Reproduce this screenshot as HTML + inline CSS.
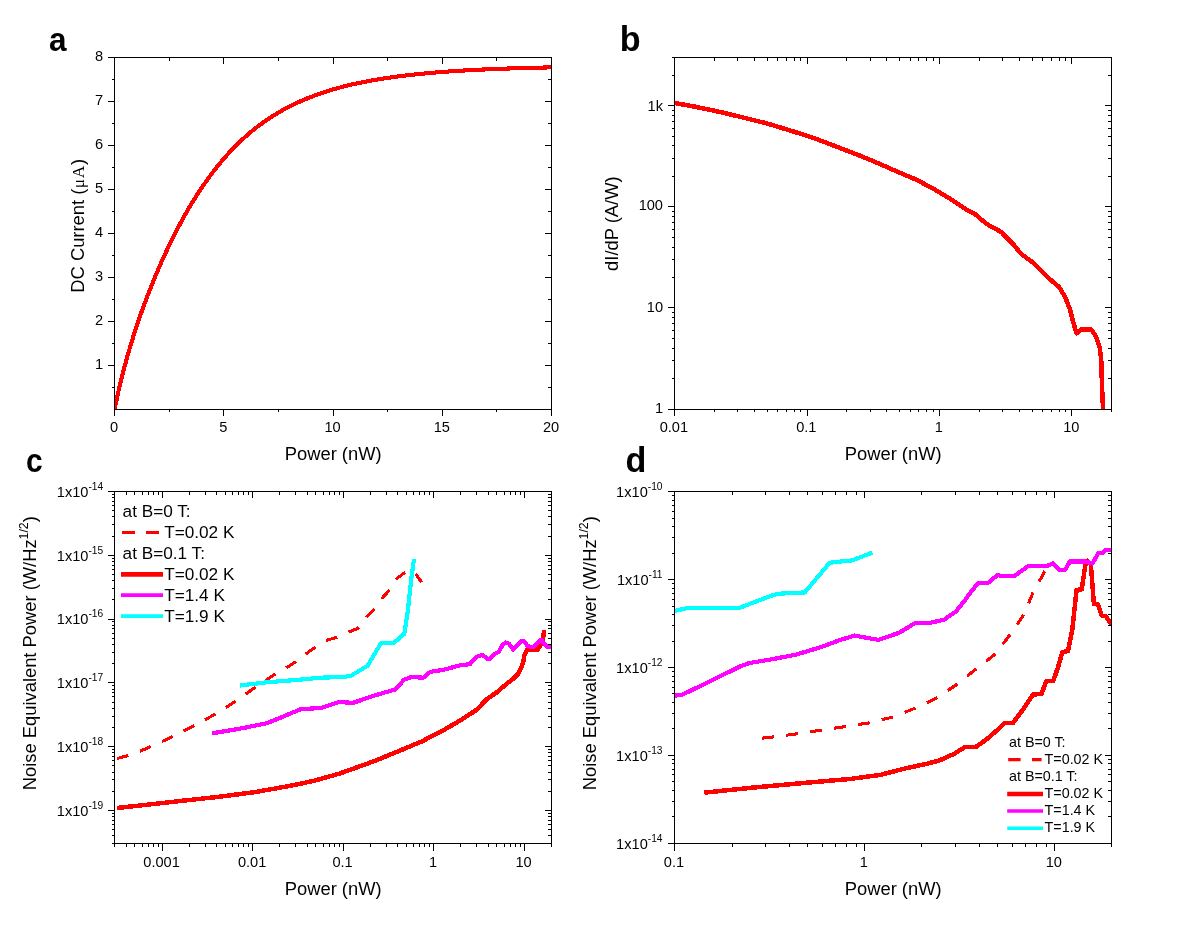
<!DOCTYPE html>
<html><head><meta charset="utf-8"><title>Figure</title>
<style>html,body{margin:0;padding:0;background:#fff;}body{width:1203px;height:927px;overflow:hidden;font-family:"Liberation Sans",sans-serif;}svg{display:block;}</style>
</head><body>
<svg width="1203" height="927" viewBox="0 0 1203 927" font-family='"Liberation Sans", sans-serif' fill="#000">
<defs>
<clipPath id="cla"><rect x="115" y="58" width="436" height="351"/></clipPath>
<clipPath id="clb"><rect x="675" y="58" width="436" height="351"/></clipPath>
<clipPath id="clc"><rect x="115" y="492" width="436" height="351"/></clipPath>
<clipPath id="cld"><rect x="675" y="492" width="436" height="351"/></clipPath>
</defs>
<rect width="1203" height="927" fill="#fff"/>
<g opacity="0.999">
<path d="M114.50,409.40L118.87,389.42L123.24,371.60L127.61,355.48L131.98,340.71L136.35,327.02L140.72,314.21L145.09,302.15L149.46,290.72L153.83,279.85L158.20,269.48L162.57,259.56L166.94,250.07L171.31,240.99L175.68,232.29L180.05,223.96L184.42,215.98L188.79,208.36L193.16,201.08L197.53,194.12L201.90,187.48L206.27,181.15L210.64,175.13L215.01,169.39L219.38,163.93L223.75,158.75L228.12,153.82L232.49,149.15L236.86,144.71L241.23,140.50L245.60,136.51L249.97,132.73L254.34,129.16L258.71,125.77L263.08,122.56L267.45,119.52L271.82,116.65L276.19,113.93L280.56,111.36L284.93,108.92L289.30,106.62L293.67,104.44L298.04,102.38L302.41,100.44L306.78,98.60L311.15,96.85L315.52,95.21L319.89,93.65L324.26,92.17L328.63,90.78L333.00,89.46L337.37,88.21L341.74,87.03L346.11,85.91L350.48,84.85L354.85,83.85L359.22,82.90L363.59,82.01L367.96,81.16L372.33,80.35L376.70,79.59L381.07,78.87L385.44,78.19L389.81,77.54L394.18,76.93L398.55,76.35L402.92,75.80L407.29,75.27L411.66,74.78L416.03,74.31L420.40,73.87L424.77,73.45L429.14,73.05L433.51,72.67L437.88,72.31L442.25,71.97L446.62,71.65L450.99,71.34L455.36,71.05L459.73,70.78L464.10,70.52L468.47,70.27L472.84,70.03L477.21,69.81L481.58,69.60L485.95,69.40L490.32,69.21L494.69,69.03L499.06,68.86L503.43,68.70L507.80,68.54L512.17,68.39L516.54,68.26L520.91,68.12L525.28,68.00L529.65,67.88L534.02,67.77L538.39,67.66L542.76,67.56L547.13,67.46L551.50,67.37" fill="none" stroke="#ff0000" stroke-width="4.1" stroke-linejoin="round" stroke-linecap="butt" shape-rendering="crispEdges" clip-path="url(#cla)"/>
<rect x="114" y="57" width="438" height="1" fill="#000"/>
<rect x="114" y="409" width="438" height="1" fill="#000"/>
<rect x="114" y="57" width="1" height="353" fill="#000"/>
<rect x="551" y="57" width="1" height="353" fill="#000"/>
<rect x="114" y="410" width="1" height="6" fill="#000"/>
<rect x="114" y="58" width="1" height="6" fill="#000"/>
<rect x="223" y="410" width="1" height="6" fill="#000"/>
<rect x="223" y="58" width="1" height="6" fill="#000"/>
<rect x="333" y="410" width="1" height="6" fill="#000"/>
<rect x="333" y="58" width="1" height="6" fill="#000"/>
<rect x="442" y="410" width="1" height="6" fill="#000"/>
<rect x="442" y="58" width="1" height="6" fill="#000"/>
<rect x="551" y="410" width="1" height="6" fill="#000"/>
<rect x="551" y="58" width="1" height="6" fill="#000"/>
<rect x="169" y="410" width="1" height="2" fill="#000"/>
<rect x="169" y="58" width="1" height="3" fill="#000"/>
<rect x="278" y="410" width="1" height="2" fill="#000"/>
<rect x="278" y="58" width="1" height="3" fill="#000"/>
<rect x="387" y="410" width="1" height="2" fill="#000"/>
<rect x="387" y="58" width="1" height="3" fill="#000"/>
<rect x="496" y="410" width="1" height="2" fill="#000"/>
<rect x="496" y="58" width="1" height="3" fill="#000"/>
<rect x="108" y="365" width="6" height="1" fill="#000"/>
<rect x="545" y="365" width="6" height="1" fill="#000"/>
<rect x="108" y="321" width="6" height="1" fill="#000"/>
<rect x="545" y="321" width="6" height="1" fill="#000"/>
<rect x="108" y="277" width="6" height="1" fill="#000"/>
<rect x="545" y="277" width="6" height="1" fill="#000"/>
<rect x="108" y="233" width="6" height="1" fill="#000"/>
<rect x="545" y="233" width="6" height="1" fill="#000"/>
<rect x="108" y="189" width="6" height="1" fill="#000"/>
<rect x="545" y="189" width="6" height="1" fill="#000"/>
<rect x="108" y="145" width="6" height="1" fill="#000"/>
<rect x="545" y="145" width="6" height="1" fill="#000"/>
<rect x="108" y="101" width="6" height="1" fill="#000"/>
<rect x="545" y="101" width="6" height="1" fill="#000"/>
<rect x="108" y="57" width="6" height="1" fill="#000"/>
<rect x="545" y="57" width="6" height="1" fill="#000"/>
<rect x="112" y="387" width="2" height="1" fill="#000"/>
<rect x="548" y="387" width="3" height="1" fill="#000"/>
<rect x="112" y="343" width="2" height="1" fill="#000"/>
<rect x="548" y="343" width="3" height="1" fill="#000"/>
<rect x="112" y="299" width="2" height="1" fill="#000"/>
<rect x="548" y="299" width="3" height="1" fill="#000"/>
<rect x="112" y="255" width="2" height="1" fill="#000"/>
<rect x="548" y="255" width="3" height="1" fill="#000"/>
<rect x="112" y="211" width="2" height="1" fill="#000"/>
<rect x="548" y="211" width="3" height="1" fill="#000"/>
<rect x="112" y="167" width="2" height="1" fill="#000"/>
<rect x="548" y="167" width="3" height="1" fill="#000"/>
<rect x="112" y="123" width="2" height="1" fill="#000"/>
<rect x="548" y="123" width="3" height="1" fill="#000"/>
<rect x="112" y="79" width="2" height="1" fill="#000"/>
<rect x="548" y="79" width="3" height="1" fill="#000"/>
<text x="114.1" y="432.2" font-size="14.6" text-anchor="middle" font-weight="normal" >0</text>
<text x="223.35" y="432.2" font-size="14.6" text-anchor="middle" font-weight="normal" >5</text>
<text x="332.6" y="432.2" font-size="14.6" text-anchor="middle" font-weight="normal" >10</text>
<text x="441.85" y="432.2" font-size="14.6" text-anchor="middle" font-weight="normal" >15</text>
<text x="551.1" y="432.2" font-size="14.6" text-anchor="middle" font-weight="normal" >20</text>
<text x="103" y="369.01" font-size="14.6" text-anchor="end" font-weight="normal" >1</text>
<text x="103" y="325.02" font-size="14.6" text-anchor="end" font-weight="normal" >2</text>
<text x="103" y="281.03" font-size="14.6" text-anchor="end" font-weight="normal" >3</text>
<text x="103" y="237.03999999999996" font-size="14.6" text-anchor="end" font-weight="normal" >4</text>
<text x="103" y="193.04999999999995" font-size="14.6" text-anchor="end" font-weight="normal" >5</text>
<text x="103" y="149.05999999999997" font-size="14.6" text-anchor="end" font-weight="normal" >6</text>
<text x="103" y="105.06999999999996" font-size="14.6" text-anchor="end" font-weight="normal" >7</text>
<text x="103" y="61.07999999999996" font-size="14.6" text-anchor="end" font-weight="normal" >8</text>
<text x="333.2" y="460.0" font-size="18.35" text-anchor="middle" font-weight="normal" >Power (nW)</text>
<text transform="translate(84.1,292.7) rotate(-90)" font-size="18.35">DC Current (<tspan font-family='"Liberation Serif", serif' font-size="17.4" letter-spacing="0.7" dx="0.4">μA</tspan>)</text>
<text transform="translate(48.9,50.8) scale(0.93,1)" font-size="33.9" font-weight="bold">a</text>
<path d="M674.70,103.00L695.60,106.80L719.30,111.80L743.10,117.50L766.80,123.40L790.60,130.60L814.30,138.20L838.00,147.20L861.80,156.40L880.00,164.00L896.60,171.40L915.60,179.40L932.20,188.00L951.20,199.40L967.80,210.50L975.00,214.10L986.80,224.10L1001.10,231.90L1012.90,243.80L1021.20,254.00L1034.30,263.50L1050.90,280.10L1059.20,287.20L1065.20,297.20L1069.90,309.10L1073.50,323.30L1076.60,333.30L1080.60,329.70L1091.30,329.70L1096.00,336.30L1099.60,347.00L1101.20,358.90L1101.60,373.10L1102.40,396.40L1103.20,410.00" fill="none" stroke="#ff0000" stroke-width="4.5" stroke-linejoin="round" stroke-linecap="butt" shape-rendering="crispEdges" clip-path="url(#clb)"/>
<rect x="674" y="57" width="438" height="1" fill="#000"/>
<rect x="674" y="409" width="438" height="1" fill="#000"/>
<rect x="674" y="57" width="1" height="353" fill="#000"/>
<rect x="1111" y="57" width="1" height="353" fill="#000"/>
<rect x="674" y="410" width="1" height="6" fill="#000"/>
<rect x="674" y="58" width="1" height="6" fill="#000"/>
<rect x="807" y="410" width="1" height="6" fill="#000"/>
<rect x="807" y="58" width="1" height="6" fill="#000"/>
<rect x="939" y="410" width="1" height="6" fill="#000"/>
<rect x="939" y="58" width="1" height="6" fill="#000"/>
<rect x="1071" y="410" width="1" height="6" fill="#000"/>
<rect x="1071" y="58" width="1" height="6" fill="#000"/>
<rect x="714" y="410" width="1" height="2" fill="#000"/>
<rect x="714" y="58" width="1" height="3" fill="#000"/>
<rect x="737" y="410" width="1" height="2" fill="#000"/>
<rect x="737" y="58" width="1" height="3" fill="#000"/>
<rect x="754" y="410" width="1" height="2" fill="#000"/>
<rect x="754" y="58" width="1" height="3" fill="#000"/>
<rect x="767" y="410" width="1" height="2" fill="#000"/>
<rect x="767" y="58" width="1" height="3" fill="#000"/>
<rect x="777" y="410" width="1" height="2" fill="#000"/>
<rect x="777" y="58" width="1" height="3" fill="#000"/>
<rect x="786" y="410" width="1" height="2" fill="#000"/>
<rect x="786" y="58" width="1" height="3" fill="#000"/>
<rect x="794" y="410" width="1" height="2" fill="#000"/>
<rect x="794" y="58" width="1" height="3" fill="#000"/>
<rect x="800" y="410" width="1" height="2" fill="#000"/>
<rect x="800" y="58" width="1" height="3" fill="#000"/>
<rect x="846" y="410" width="1" height="2" fill="#000"/>
<rect x="846" y="58" width="1" height="3" fill="#000"/>
<rect x="870" y="410" width="1" height="2" fill="#000"/>
<rect x="870" y="58" width="1" height="3" fill="#000"/>
<rect x="886" y="410" width="1" height="2" fill="#000"/>
<rect x="886" y="58" width="1" height="3" fill="#000"/>
<rect x="899" y="410" width="1" height="2" fill="#000"/>
<rect x="899" y="58" width="1" height="3" fill="#000"/>
<rect x="910" y="410" width="1" height="2" fill="#000"/>
<rect x="910" y="58" width="1" height="3" fill="#000"/>
<rect x="918" y="410" width="1" height="2" fill="#000"/>
<rect x="918" y="58" width="1" height="3" fill="#000"/>
<rect x="926" y="410" width="1" height="2" fill="#000"/>
<rect x="926" y="58" width="1" height="3" fill="#000"/>
<rect x="933" y="410" width="1" height="2" fill="#000"/>
<rect x="933" y="58" width="1" height="3" fill="#000"/>
<rect x="979" y="410" width="1" height="2" fill="#000"/>
<rect x="979" y="58" width="1" height="3" fill="#000"/>
<rect x="1002" y="410" width="1" height="2" fill="#000"/>
<rect x="1002" y="58" width="1" height="3" fill="#000"/>
<rect x="1019" y="410" width="1" height="2" fill="#000"/>
<rect x="1019" y="58" width="1" height="3" fill="#000"/>
<rect x="1032" y="410" width="1" height="2" fill="#000"/>
<rect x="1032" y="58" width="1" height="3" fill="#000"/>
<rect x="1042" y="410" width="1" height="2" fill="#000"/>
<rect x="1042" y="58" width="1" height="3" fill="#000"/>
<rect x="1051" y="410" width="1" height="2" fill="#000"/>
<rect x="1051" y="58" width="1" height="3" fill="#000"/>
<rect x="1059" y="410" width="1" height="2" fill="#000"/>
<rect x="1059" y="58" width="1" height="3" fill="#000"/>
<rect x="1065" y="410" width="1" height="2" fill="#000"/>
<rect x="1065" y="58" width="1" height="3" fill="#000"/>
<rect x="1111" y="410" width="1" height="2" fill="#000"/>
<rect x="1111" y="58" width="1" height="3" fill="#000"/>
<rect x="668" y="409" width="6" height="1" fill="#000"/>
<rect x="1105" y="409" width="6" height="1" fill="#000"/>
<rect x="668" y="307" width="6" height="1" fill="#000"/>
<rect x="1105" y="307" width="6" height="1" fill="#000"/>
<rect x="668" y="206" width="6" height="1" fill="#000"/>
<rect x="1105" y="206" width="6" height="1" fill="#000"/>
<rect x="668" y="105" width="6" height="1" fill="#000"/>
<rect x="1105" y="105" width="6" height="1" fill="#000"/>
<rect x="672" y="378" width="2" height="1" fill="#000"/>
<rect x="1108" y="378" width="3" height="1" fill="#000"/>
<rect x="672" y="360" width="2" height="1" fill="#000"/>
<rect x="1108" y="360" width="3" height="1" fill="#000"/>
<rect x="672" y="348" width="2" height="1" fill="#000"/>
<rect x="1108" y="348" width="3" height="1" fill="#000"/>
<rect x="672" y="338" width="2" height="1" fill="#000"/>
<rect x="1108" y="338" width="3" height="1" fill="#000"/>
<rect x="672" y="330" width="2" height="1" fill="#000"/>
<rect x="1108" y="330" width="3" height="1" fill="#000"/>
<rect x="672" y="323" width="2" height="1" fill="#000"/>
<rect x="1108" y="323" width="3" height="1" fill="#000"/>
<rect x="672" y="317" width="2" height="1" fill="#000"/>
<rect x="1108" y="317" width="3" height="1" fill="#000"/>
<rect x="672" y="312" width="2" height="1" fill="#000"/>
<rect x="1108" y="312" width="3" height="1" fill="#000"/>
<rect x="672" y="277" width="2" height="1" fill="#000"/>
<rect x="1108" y="277" width="3" height="1" fill="#000"/>
<rect x="672" y="259" width="2" height="1" fill="#000"/>
<rect x="1108" y="259" width="3" height="1" fill="#000"/>
<rect x="672" y="247" width="2" height="1" fill="#000"/>
<rect x="1108" y="247" width="3" height="1" fill="#000"/>
<rect x="672" y="237" width="2" height="1" fill="#000"/>
<rect x="1108" y="237" width="3" height="1" fill="#000"/>
<rect x="672" y="229" width="2" height="1" fill="#000"/>
<rect x="1108" y="229" width="3" height="1" fill="#000"/>
<rect x="672" y="222" width="2" height="1" fill="#000"/>
<rect x="1108" y="222" width="3" height="1" fill="#000"/>
<rect x="672" y="216" width="2" height="1" fill="#000"/>
<rect x="1108" y="216" width="3" height="1" fill="#000"/>
<rect x="672" y="211" width="2" height="1" fill="#000"/>
<rect x="1108" y="211" width="3" height="1" fill="#000"/>
<rect x="672" y="176" width="2" height="1" fill="#000"/>
<rect x="1108" y="176" width="3" height="1" fill="#000"/>
<rect x="672" y="158" width="2" height="1" fill="#000"/>
<rect x="1108" y="158" width="3" height="1" fill="#000"/>
<rect x="672" y="145" width="2" height="1" fill="#000"/>
<rect x="1108" y="145" width="3" height="1" fill="#000"/>
<rect x="672" y="136" width="2" height="1" fill="#000"/>
<rect x="1108" y="136" width="3" height="1" fill="#000"/>
<rect x="672" y="128" width="2" height="1" fill="#000"/>
<rect x="1108" y="128" width="3" height="1" fill="#000"/>
<rect x="672" y="121" width="2" height="1" fill="#000"/>
<rect x="1108" y="121" width="3" height="1" fill="#000"/>
<rect x="672" y="115" width="2" height="1" fill="#000"/>
<rect x="1108" y="115" width="3" height="1" fill="#000"/>
<rect x="672" y="110" width="2" height="1" fill="#000"/>
<rect x="1108" y="110" width="3" height="1" fill="#000"/>
<rect x="672" y="75" width="2" height="1" fill="#000"/>
<rect x="1108" y="75" width="3" height="1" fill="#000"/>
<rect x="672" y="57" width="2" height="1" fill="#000"/>
<rect x="1108" y="57" width="3" height="1" fill="#000"/>
<text x="673.9000000000001" y="432.2" font-size="14.6" text-anchor="middle" font-weight="normal" >0.01</text>
<text x="806.35" y="432.2" font-size="14.6" text-anchor="middle" font-weight="normal" >0.1</text>
<text x="938.8" y="432.2" font-size="14.6" text-anchor="middle" font-weight="normal" >1</text>
<text x="1071.25" y="432.2" font-size="14.6" text-anchor="middle" font-weight="normal" >10</text>
<text x="663" y="412.6" font-size="14.6" text-anchor="end" font-weight="normal" >1</text>
<text x="663" y="311.5" font-size="14.6" text-anchor="end" font-weight="normal" >10</text>
<text x="663" y="210.4" font-size="14.6" text-anchor="end" font-weight="normal" >100</text>
<text x="663" y="110.70000000000005" font-size="14.6" text-anchor="end" font-weight="normal" >1k</text>
<text x="893.2" y="460.0" font-size="18.35" text-anchor="middle" font-weight="normal" >Power (nW)</text>
<text transform="translate(618.2,270.9) rotate(-90)" font-size="18.35">dI/dP (A/W)</text>
<text transform="translate(619.7,50.8) scale(0.96,1)" font-size="35.6" font-weight="bold">b</text>
<path d="M117.00,758.50L128.50,755.50L145.10,749.10L167.70,738.90L189.00,728.20L210.40,716.80L230.60,704.50L251.90,689.70L272.10,676.00L292.30,664.10L311.30,649.90L327.90,640.00L337.80,636.90L348.50,632.10L358.00,628.30L366.30,617.20L374.60,608.80L382.20,598.20L389.60,589.90L396.00,579.20L405.50,572.00L413.80,571.00L421.60,582.30" fill="none" stroke="#ff0000" stroke-width="3.1" stroke-linejoin="round" stroke-linecap="butt" shape-rendering="crispEdges" stroke-dasharray="11.8 12.3" clip-path="url(#clc)"/>
<path d="M116.90,808.00L147.50,804.70L183.10,800.70L218.70,796.80L254.30,792.20L289.90,785.90L313.60,780.90L339.80,773.50L374.60,761.00L398.30,751.30L422.10,741.30L443.40,730.20L462.40,719.20L476.70,709.70L487.30,698.70L497.00,692.20L505.60,684.70L513.20,678.70L518.50,673.40L522.90,663.60L524.50,655.00L527.20,649.60L537.40,649.60L540.10,646.40L542.80,639.90L543.90,632.40L544.40,630.20" fill="none" stroke="#ff0000" stroke-width="4.5" stroke-linejoin="round" stroke-linecap="butt" shape-rendering="crispEdges" clip-path="url(#clc)"/>
<path d="M212.00,733.40L242.40,728.20L266.20,723.40L282.80,716.80L300.60,709.20L320.80,708.00L339.00,702.10L353.20,702.80L374.60,695.50L394.80,689.60L404.30,679.60L411.40,677.00L423.30,677.70L430.40,671.80L443.40,669.90L460.10,665.30L470.00,664.20L474.30,658.80L478.60,655.90L482.90,655.00L487.30,659.10L490.00,658.80L493.70,654.50L498.60,651.80L502.40,645.30L505.60,642.60L508.80,643.70L513.20,649.60L517.50,644.80L521.80,640.80L524.50,641.50L527.20,645.80L530.40,646.90L534.70,646.40L539.00,641.00L541.20,639.90L544.40,644.20L547.70,646.90L551.50,647.50" fill="none" stroke="#ff00ff" stroke-width="4.2" stroke-linejoin="round" stroke-linecap="butt" shape-rendering="crispEdges" clip-path="url(#clc)"/>
<path d="M240.10,685.50L266.20,682.40L301.80,679.50L320.00,677.70L343.70,677.00L350.90,675.80L367.50,665.80L374.60,653.90L381.20,642.80L394.10,642.60L404.30,633.80L407.80,611.20L411.40,578.00L414.00,559.00" fill="none" stroke="#00ffff" stroke-width="4.2" stroke-linejoin="round" stroke-linecap="butt" shape-rendering="crispEdges" clip-path="url(#clc)"/>
<rect x="114" y="491" width="438" height="1" fill="#000"/>
<rect x="114" y="843" width="438" height="1" fill="#000"/>
<rect x="114" y="491" width="1" height="353" fill="#000"/>
<rect x="551" y="491" width="1" height="353" fill="#000"/>
<rect x="162" y="844" width="1" height="7" fill="#000"/>
<rect x="162" y="492" width="1" height="6" fill="#000"/>
<rect x="252" y="844" width="1" height="7" fill="#000"/>
<rect x="252" y="492" width="1" height="6" fill="#000"/>
<rect x="343" y="844" width="1" height="7" fill="#000"/>
<rect x="343" y="492" width="1" height="6" fill="#000"/>
<rect x="433" y="844" width="1" height="7" fill="#000"/>
<rect x="433" y="492" width="1" height="6" fill="#000"/>
<rect x="524" y="844" width="1" height="7" fill="#000"/>
<rect x="524" y="492" width="1" height="6" fill="#000"/>
<rect x="114" y="844" width="1" height="3" fill="#000"/>
<rect x="114" y="492" width="1" height="3" fill="#000"/>
<rect x="126" y="844" width="1" height="3" fill="#000"/>
<rect x="126" y="492" width="1" height="3" fill="#000"/>
<rect x="134" y="844" width="1" height="3" fill="#000"/>
<rect x="134" y="492" width="1" height="3" fill="#000"/>
<rect x="142" y="844" width="1" height="3" fill="#000"/>
<rect x="142" y="492" width="1" height="3" fill="#000"/>
<rect x="148" y="844" width="1" height="3" fill="#000"/>
<rect x="148" y="492" width="1" height="3" fill="#000"/>
<rect x="153" y="844" width="1" height="3" fill="#000"/>
<rect x="153" y="492" width="1" height="3" fill="#000"/>
<rect x="158" y="844" width="1" height="3" fill="#000"/>
<rect x="158" y="492" width="1" height="3" fill="#000"/>
<rect x="189" y="844" width="1" height="3" fill="#000"/>
<rect x="189" y="492" width="1" height="3" fill="#000"/>
<rect x="205" y="844" width="1" height="3" fill="#000"/>
<rect x="205" y="492" width="1" height="3" fill="#000"/>
<rect x="216" y="844" width="1" height="3" fill="#000"/>
<rect x="216" y="492" width="1" height="3" fill="#000"/>
<rect x="225" y="844" width="1" height="3" fill="#000"/>
<rect x="225" y="492" width="1" height="3" fill="#000"/>
<rect x="232" y="844" width="1" height="3" fill="#000"/>
<rect x="232" y="492" width="1" height="3" fill="#000"/>
<rect x="238" y="844" width="1" height="3" fill="#000"/>
<rect x="238" y="492" width="1" height="3" fill="#000"/>
<rect x="243" y="844" width="1" height="3" fill="#000"/>
<rect x="243" y="492" width="1" height="3" fill="#000"/>
<rect x="248" y="844" width="1" height="3" fill="#000"/>
<rect x="248" y="492" width="1" height="3" fill="#000"/>
<rect x="279" y="844" width="1" height="3" fill="#000"/>
<rect x="279" y="492" width="1" height="3" fill="#000"/>
<rect x="295" y="844" width="1" height="3" fill="#000"/>
<rect x="295" y="492" width="1" height="3" fill="#000"/>
<rect x="307" y="844" width="1" height="3" fill="#000"/>
<rect x="307" y="492" width="1" height="3" fill="#000"/>
<rect x="315" y="844" width="1" height="3" fill="#000"/>
<rect x="315" y="492" width="1" height="3" fill="#000"/>
<rect x="323" y="844" width="1" height="3" fill="#000"/>
<rect x="323" y="492" width="1" height="3" fill="#000"/>
<rect x="329" y="844" width="1" height="3" fill="#000"/>
<rect x="329" y="492" width="1" height="3" fill="#000"/>
<rect x="334" y="844" width="1" height="3" fill="#000"/>
<rect x="334" y="492" width="1" height="3" fill="#000"/>
<rect x="339" y="844" width="1" height="3" fill="#000"/>
<rect x="339" y="492" width="1" height="3" fill="#000"/>
<rect x="370" y="844" width="1" height="3" fill="#000"/>
<rect x="370" y="492" width="1" height="3" fill="#000"/>
<rect x="386" y="844" width="1" height="3" fill="#000"/>
<rect x="386" y="492" width="1" height="3" fill="#000"/>
<rect x="397" y="844" width="1" height="3" fill="#000"/>
<rect x="397" y="492" width="1" height="3" fill="#000"/>
<rect x="406" y="844" width="1" height="3" fill="#000"/>
<rect x="406" y="492" width="1" height="3" fill="#000"/>
<rect x="413" y="844" width="1" height="3" fill="#000"/>
<rect x="413" y="492" width="1" height="3" fill="#000"/>
<rect x="419" y="844" width="1" height="3" fill="#000"/>
<rect x="419" y="492" width="1" height="3" fill="#000"/>
<rect x="424" y="844" width="1" height="3" fill="#000"/>
<rect x="424" y="492" width="1" height="3" fill="#000"/>
<rect x="429" y="844" width="1" height="3" fill="#000"/>
<rect x="429" y="492" width="1" height="3" fill="#000"/>
<rect x="460" y="844" width="1" height="3" fill="#000"/>
<rect x="460" y="492" width="1" height="3" fill="#000"/>
<rect x="476" y="844" width="1" height="3" fill="#000"/>
<rect x="476" y="492" width="1" height="3" fill="#000"/>
<rect x="488" y="844" width="1" height="3" fill="#000"/>
<rect x="488" y="492" width="1" height="3" fill="#000"/>
<rect x="496" y="844" width="1" height="3" fill="#000"/>
<rect x="496" y="492" width="1" height="3" fill="#000"/>
<rect x="504" y="844" width="1" height="3" fill="#000"/>
<rect x="504" y="492" width="1" height="3" fill="#000"/>
<rect x="510" y="844" width="1" height="3" fill="#000"/>
<rect x="510" y="492" width="1" height="3" fill="#000"/>
<rect x="515" y="844" width="1" height="3" fill="#000"/>
<rect x="515" y="492" width="1" height="3" fill="#000"/>
<rect x="520" y="844" width="1" height="3" fill="#000"/>
<rect x="520" y="492" width="1" height="3" fill="#000"/>
<rect x="551" y="844" width="1" height="3" fill="#000"/>
<rect x="551" y="492" width="1" height="3" fill="#000"/>
<rect x="108" y="810" width="6" height="1" fill="#000"/>
<rect x="545" y="810" width="6" height="1" fill="#000"/>
<rect x="108" y="746" width="6" height="1" fill="#000"/>
<rect x="545" y="746" width="6" height="1" fill="#000"/>
<rect x="108" y="682" width="6" height="1" fill="#000"/>
<rect x="545" y="682" width="6" height="1" fill="#000"/>
<rect x="108" y="619" width="6" height="1" fill="#000"/>
<rect x="545" y="619" width="6" height="1" fill="#000"/>
<rect x="108" y="555" width="6" height="1" fill="#000"/>
<rect x="545" y="555" width="6" height="1" fill="#000"/>
<rect x="108" y="491" width="6" height="1" fill="#000"/>
<rect x="545" y="491" width="6" height="1" fill="#000"/>
<rect x="112" y="843" width="2" height="1" fill="#000"/>
<rect x="548" y="843" width="3" height="1" fill="#000"/>
<rect x="112" y="835" width="2" height="1" fill="#000"/>
<rect x="548" y="835" width="3" height="1" fill="#000"/>
<rect x="112" y="829" width="2" height="1" fill="#000"/>
<rect x="548" y="829" width="3" height="1" fill="#000"/>
<rect x="112" y="824" width="2" height="1" fill="#000"/>
<rect x="548" y="824" width="3" height="1" fill="#000"/>
<rect x="112" y="820" width="2" height="1" fill="#000"/>
<rect x="548" y="820" width="3" height="1" fill="#000"/>
<rect x="112" y="816" width="2" height="1" fill="#000"/>
<rect x="548" y="816" width="3" height="1" fill="#000"/>
<rect x="112" y="813" width="2" height="1" fill="#000"/>
<rect x="548" y="813" width="3" height="1" fill="#000"/>
<rect x="112" y="791" width="2" height="1" fill="#000"/>
<rect x="548" y="791" width="3" height="1" fill="#000"/>
<rect x="112" y="779" width="2" height="1" fill="#000"/>
<rect x="548" y="779" width="3" height="1" fill="#000"/>
<rect x="112" y="772" width="2" height="1" fill="#000"/>
<rect x="548" y="772" width="3" height="1" fill="#000"/>
<rect x="112" y="765" width="2" height="1" fill="#000"/>
<rect x="548" y="765" width="3" height="1" fill="#000"/>
<rect x="112" y="760" width="2" height="1" fill="#000"/>
<rect x="548" y="760" width="3" height="1" fill="#000"/>
<rect x="112" y="756" width="2" height="1" fill="#000"/>
<rect x="548" y="756" width="3" height="1" fill="#000"/>
<rect x="112" y="752" width="2" height="1" fill="#000"/>
<rect x="548" y="752" width="3" height="1" fill="#000"/>
<rect x="112" y="749" width="2" height="1" fill="#000"/>
<rect x="548" y="749" width="3" height="1" fill="#000"/>
<rect x="112" y="727" width="2" height="1" fill="#000"/>
<rect x="548" y="727" width="3" height="1" fill="#000"/>
<rect x="112" y="716" width="2" height="1" fill="#000"/>
<rect x="548" y="716" width="3" height="1" fill="#000"/>
<rect x="112" y="708" width="2" height="1" fill="#000"/>
<rect x="548" y="708" width="3" height="1" fill="#000"/>
<rect x="112" y="702" width="2" height="1" fill="#000"/>
<rect x="548" y="702" width="3" height="1" fill="#000"/>
<rect x="112" y="696" width="2" height="1" fill="#000"/>
<rect x="548" y="696" width="3" height="1" fill="#000"/>
<rect x="112" y="692" width="2" height="1" fill="#000"/>
<rect x="548" y="692" width="3" height="1" fill="#000"/>
<rect x="112" y="689" width="2" height="1" fill="#000"/>
<rect x="548" y="689" width="3" height="1" fill="#000"/>
<rect x="112" y="685" width="2" height="1" fill="#000"/>
<rect x="548" y="685" width="3" height="1" fill="#000"/>
<rect x="112" y="663" width="2" height="1" fill="#000"/>
<rect x="548" y="663" width="3" height="1" fill="#000"/>
<rect x="112" y="652" width="2" height="1" fill="#000"/>
<rect x="548" y="652" width="3" height="1" fill="#000"/>
<rect x="112" y="644" width="2" height="1" fill="#000"/>
<rect x="548" y="644" width="3" height="1" fill="#000"/>
<rect x="112" y="638" width="2" height="1" fill="#000"/>
<rect x="548" y="638" width="3" height="1" fill="#000"/>
<rect x="112" y="633" width="2" height="1" fill="#000"/>
<rect x="548" y="633" width="3" height="1" fill="#000"/>
<rect x="112" y="628" width="2" height="1" fill="#000"/>
<rect x="548" y="628" width="3" height="1" fill="#000"/>
<rect x="112" y="625" width="2" height="1" fill="#000"/>
<rect x="548" y="625" width="3" height="1" fill="#000"/>
<rect x="112" y="621" width="2" height="1" fill="#000"/>
<rect x="548" y="621" width="3" height="1" fill="#000"/>
<rect x="112" y="599" width="2" height="1" fill="#000"/>
<rect x="548" y="599" width="3" height="1" fill="#000"/>
<rect x="112" y="588" width="2" height="1" fill="#000"/>
<rect x="548" y="588" width="3" height="1" fill="#000"/>
<rect x="112" y="580" width="2" height="1" fill="#000"/>
<rect x="548" y="580" width="3" height="1" fill="#000"/>
<rect x="112" y="574" width="2" height="1" fill="#000"/>
<rect x="548" y="574" width="3" height="1" fill="#000"/>
<rect x="112" y="569" width="2" height="1" fill="#000"/>
<rect x="548" y="569" width="3" height="1" fill="#000"/>
<rect x="112" y="565" width="2" height="1" fill="#000"/>
<rect x="548" y="565" width="3" height="1" fill="#000"/>
<rect x="112" y="561" width="2" height="1" fill="#000"/>
<rect x="548" y="561" width="3" height="1" fill="#000"/>
<rect x="112" y="558" width="2" height="1" fill="#000"/>
<rect x="548" y="558" width="3" height="1" fill="#000"/>
<rect x="112" y="536" width="2" height="1" fill="#000"/>
<rect x="548" y="536" width="3" height="1" fill="#000"/>
<rect x="112" y="524" width="2" height="1" fill="#000"/>
<rect x="548" y="524" width="3" height="1" fill="#000"/>
<rect x="112" y="516" width="2" height="1" fill="#000"/>
<rect x="548" y="516" width="3" height="1" fill="#000"/>
<rect x="112" y="510" width="2" height="1" fill="#000"/>
<rect x="548" y="510" width="3" height="1" fill="#000"/>
<rect x="112" y="505" width="2" height="1" fill="#000"/>
<rect x="548" y="505" width="3" height="1" fill="#000"/>
<rect x="112" y="501" width="2" height="1" fill="#000"/>
<rect x="548" y="501" width="3" height="1" fill="#000"/>
<rect x="112" y="497" width="2" height="1" fill="#000"/>
<rect x="548" y="497" width="3" height="1" fill="#000"/>
<rect x="112" y="494" width="2" height="1" fill="#000"/>
<rect x="548" y="494" width="3" height="1" fill="#000"/>
<text x="161.60000000000005" y="866.8" font-size="14.6" text-anchor="middle" font-weight="normal" >0.001</text>
<text x="252.10000000000005" y="866.8" font-size="14.6" text-anchor="middle" font-weight="normal" >0.01</text>
<text x="342.6" y="866.8" font-size="14.6" text-anchor="middle" font-weight="normal" >0.1</text>
<text x="433.1" y="866.8" font-size="14.6" text-anchor="middle" font-weight="normal" >1</text>
<text x="523.6" y="866.8" font-size="14.6" text-anchor="middle" font-weight="normal" >10</text>
<text x="103.2" y="815.6999999999999" font-size="14.6" text-anchor="end">1x10<tspan font-size="10.2" dy="-6.9">-19</tspan></text>
<text x="103.2" y="751.92" font-size="14.6" text-anchor="end">1x10<tspan font-size="10.2" dy="-6.9">-18</tspan></text>
<text x="103.2" y="688.1399999999999" font-size="14.6" text-anchor="end">1x10<tspan font-size="10.2" dy="-6.9">-17</tspan></text>
<text x="103.2" y="624.3599999999999" font-size="14.6" text-anchor="end">1x10<tspan font-size="10.2" dy="-6.9">-16</tspan></text>
<text x="103.2" y="560.5799999999999" font-size="14.6" text-anchor="end">1x10<tspan font-size="10.2" dy="-6.9">-15</tspan></text>
<text x="103.2" y="496.8" font-size="14.6" text-anchor="end">1x10<tspan font-size="10.2" dy="-6.9">-14</tspan></text>
<text x="333.2" y="894.8" font-size="18.35" text-anchor="middle" font-weight="normal" >Power (nW)</text>
<text transform="translate(36.3,790.2) rotate(-90)" font-size="18.35">Noise Equivalent Power (W/Hz<tspan font-size="12.3" dy="-8.1">1/2</tspan><tspan dy="8.1">)</tspan></text>
<text transform="translate(26.0,472.2) scale(0.88,1)" font-size="34" font-weight="bold">c</text>
<text x="122.6" y="516.9" font-size="17.2" text-anchor="start" font-weight="normal" >at B=0 T:</text>
<text x="164.2" y="537.9" font-size="17.2" text-anchor="start" font-weight="normal" >T=0.02 K</text>
<path d="M122,532.5H159" stroke="#ff0000" stroke-width="3.2" stroke-dasharray="13 11" fill="none"/>
<text x="122.6" y="558.8" font-size="17.2" text-anchor="start" font-weight="normal" >at B=0.1 T:</text>
<text x="164.2" y="579.8" font-size="17.2" text-anchor="start" font-weight="normal" >T=0.02 K</text>
<path d="M121,574.4H163" stroke="#ff0000" stroke-width="4.6" fill="none"/>
<text x="164.2" y="600.6" font-size="17.2" text-anchor="start" font-weight="normal" >T=1.4 K</text>
<path d="M121,595.2H163" stroke="#ff00ff" stroke-width="3.8" fill="none"/>
<text x="164.2" y="621.5" font-size="17.2" text-anchor="start" font-weight="normal" >T=1.9 K</text>
<path d="M121,616.1H163" stroke="#00ffff" stroke-width="3.8" fill="none"/>
<path d="M762.10,738.20L773.90,736.90L797.70,733.70L821.40,730.10L845.20,726.60L869.40,722.80L892.20,717.20L915.60,708.00L936.50,698.00L956.00,685.00L975.40,669.60L994.40,654.80L1009.40,635.60L1023.60,615.00L1033.10,592.40L1045.00,571.00" fill="none" stroke="#ff0000" stroke-width="3.1" stroke-linejoin="round" stroke-linecap="butt" shape-rendering="crispEdges" stroke-dasharray="11.8 12.4" clip-path="url(#cld)"/>
<path d="M704.40,792.60L755.00,787.40L802.40,783.10L849.90,779.00L868.90,776.40L880.00,775.00L903.70,768.80L927.50,763.60L939.30,760.50L953.60,754.10L965.50,746.80L976.10,746.80L986.80,739.20L996.30,730.90L1004.60,723.00L1012.90,723.00L1023.60,708.70L1033.10,694.50L1041.40,694.00L1046.20,681.40L1053.30,680.90L1058.00,667.20L1062.30,652.20L1068.00,651.00L1072.30,629.20L1076.60,590.00L1081.80,589.30L1085.30,565.10L1087.40,560.80L1090.80,563.90L1093.90,604.00L1098.00,604.60L1101.60,615.60L1106.00,616.40L1111.50,624.80" fill="none" stroke="#ff0000" stroke-width="4.5" stroke-linejoin="round" stroke-linecap="butt" shape-rendering="crispEdges" clip-path="url(#cld)"/>
<path d="M674.70,695.70L682.60,694.50L707.50,682.60L739.50,666.70L749.00,663.10L773.90,658.90L795.30,654.80L821.40,647.00L840.40,639.90L854.70,635.60L878.40,639.90L899.00,632.80L915.60,622.80L929.90,622.80L944.10,619.70L956.00,611.40L965.50,599.50L971.40,591.20L978.50,582.90L988.00,582.90L997.50,575.10L1003.40,576.30L1014.10,576.30L1028.40,565.80L1047.40,565.80L1053.30,563.20L1059.20,569.90L1065.20,569.90L1069.90,561.50L1085.30,561.50L1092.50,563.40L1098.40,553.20L1102.00,553.20L1105.50,550.10L1111.50,550.10" fill="none" stroke="#ff00ff" stroke-width="4.2" stroke-linejoin="round" stroke-linecap="butt" shape-rendering="crispEdges" clip-path="url(#cld)"/>
<path d="M674.70,610.90L688.50,607.80L739.50,607.80L773.90,594.80L781.10,593.60L804.80,592.40L829.70,562.70L852.30,560.40L872.50,552.50" fill="none" stroke="#00ffff" stroke-width="4.2" stroke-linejoin="round" stroke-linecap="butt" shape-rendering="crispEdges" clip-path="url(#cld)"/>
<rect x="674" y="491" width="438" height="1" fill="#000"/>
<rect x="674" y="843" width="438" height="1" fill="#000"/>
<rect x="674" y="491" width="1" height="353" fill="#000"/>
<rect x="1111" y="491" width="1" height="353" fill="#000"/>
<rect x="674" y="844" width="1" height="7" fill="#000"/>
<rect x="674" y="492" width="1" height="6" fill="#000"/>
<rect x="864" y="844" width="1" height="7" fill="#000"/>
<rect x="864" y="492" width="1" height="6" fill="#000"/>
<rect x="1054" y="844" width="1" height="7" fill="#000"/>
<rect x="1054" y="492" width="1" height="6" fill="#000"/>
<rect x="732" y="844" width="1" height="3" fill="#000"/>
<rect x="732" y="492" width="1" height="3" fill="#000"/>
<rect x="765" y="844" width="1" height="3" fill="#000"/>
<rect x="765" y="492" width="1" height="3" fill="#000"/>
<rect x="789" y="844" width="1" height="3" fill="#000"/>
<rect x="789" y="492" width="1" height="3" fill="#000"/>
<rect x="807" y="844" width="1" height="3" fill="#000"/>
<rect x="807" y="492" width="1" height="3" fill="#000"/>
<rect x="822" y="844" width="1" height="3" fill="#000"/>
<rect x="822" y="492" width="1" height="3" fill="#000"/>
<rect x="835" y="844" width="1" height="3" fill="#000"/>
<rect x="835" y="492" width="1" height="3" fill="#000"/>
<rect x="846" y="844" width="1" height="3" fill="#000"/>
<rect x="846" y="492" width="1" height="3" fill="#000"/>
<rect x="856" y="844" width="1" height="3" fill="#000"/>
<rect x="856" y="492" width="1" height="3" fill="#000"/>
<rect x="921" y="844" width="1" height="3" fill="#000"/>
<rect x="921" y="492" width="1" height="3" fill="#000"/>
<rect x="955" y="844" width="1" height="3" fill="#000"/>
<rect x="955" y="492" width="1" height="3" fill="#000"/>
<rect x="979" y="844" width="1" height="3" fill="#000"/>
<rect x="979" y="492" width="1" height="3" fill="#000"/>
<rect x="997" y="844" width="1" height="3" fill="#000"/>
<rect x="997" y="492" width="1" height="3" fill="#000"/>
<rect x="1012" y="844" width="1" height="3" fill="#000"/>
<rect x="1012" y="492" width="1" height="3" fill="#000"/>
<rect x="1025" y="844" width="1" height="3" fill="#000"/>
<rect x="1025" y="492" width="1" height="3" fill="#000"/>
<rect x="1036" y="844" width="1" height="3" fill="#000"/>
<rect x="1036" y="492" width="1" height="3" fill="#000"/>
<rect x="1046" y="844" width="1" height="3" fill="#000"/>
<rect x="1046" y="492" width="1" height="3" fill="#000"/>
<rect x="1111" y="844" width="1" height="3" fill="#000"/>
<rect x="1111" y="492" width="1" height="3" fill="#000"/>
<rect x="668" y="843" width="6" height="1" fill="#000"/>
<rect x="1105" y="843" width="6" height="1" fill="#000"/>
<rect x="668" y="755" width="6" height="1" fill="#000"/>
<rect x="1105" y="755" width="6" height="1" fill="#000"/>
<rect x="668" y="667" width="6" height="1" fill="#000"/>
<rect x="1105" y="667" width="6" height="1" fill="#000"/>
<rect x="668" y="579" width="6" height="1" fill="#000"/>
<rect x="1105" y="579" width="6" height="1" fill="#000"/>
<rect x="668" y="491" width="6" height="1" fill="#000"/>
<rect x="1105" y="491" width="6" height="1" fill="#000"/>
<rect x="672" y="816" width="2" height="1" fill="#000"/>
<rect x="1108" y="816" width="3" height="1" fill="#000"/>
<rect x="672" y="801" width="2" height="1" fill="#000"/>
<rect x="1108" y="801" width="3" height="1" fill="#000"/>
<rect x="672" y="790" width="2" height="1" fill="#000"/>
<rect x="1108" y="790" width="3" height="1" fill="#000"/>
<rect x="672" y="781" width="2" height="1" fill="#000"/>
<rect x="1108" y="781" width="3" height="1" fill="#000"/>
<rect x="672" y="774" width="2" height="1" fill="#000"/>
<rect x="1108" y="774" width="3" height="1" fill="#000"/>
<rect x="672" y="769" width="2" height="1" fill="#000"/>
<rect x="1108" y="769" width="3" height="1" fill="#000"/>
<rect x="672" y="763" width="2" height="1" fill="#000"/>
<rect x="1108" y="763" width="3" height="1" fill="#000"/>
<rect x="672" y="759" width="2" height="1" fill="#000"/>
<rect x="1108" y="759" width="3" height="1" fill="#000"/>
<rect x="672" y="728" width="2" height="1" fill="#000"/>
<rect x="1108" y="728" width="3" height="1" fill="#000"/>
<rect x="672" y="713" width="2" height="1" fill="#000"/>
<rect x="1108" y="713" width="3" height="1" fill="#000"/>
<rect x="672" y="702" width="2" height="1" fill="#000"/>
<rect x="1108" y="702" width="3" height="1" fill="#000"/>
<rect x="672" y="693" width="2" height="1" fill="#000"/>
<rect x="1108" y="693" width="3" height="1" fill="#000"/>
<rect x="672" y="687" width="2" height="1" fill="#000"/>
<rect x="1108" y="687" width="3" height="1" fill="#000"/>
<rect x="672" y="681" width="2" height="1" fill="#000"/>
<rect x="1108" y="681" width="3" height="1" fill="#000"/>
<rect x="672" y="676" width="2" height="1" fill="#000"/>
<rect x="1108" y="676" width="3" height="1" fill="#000"/>
<rect x="672" y="671" width="2" height="1" fill="#000"/>
<rect x="1108" y="671" width="3" height="1" fill="#000"/>
<rect x="672" y="641" width="2" height="1" fill="#000"/>
<rect x="1108" y="641" width="3" height="1" fill="#000"/>
<rect x="672" y="625" width="2" height="1" fill="#000"/>
<rect x="1108" y="625" width="3" height="1" fill="#000"/>
<rect x="672" y="614" width="2" height="1" fill="#000"/>
<rect x="1108" y="614" width="3" height="1" fill="#000"/>
<rect x="672" y="606" width="2" height="1" fill="#000"/>
<rect x="1108" y="606" width="3" height="1" fill="#000"/>
<rect x="672" y="599" width="2" height="1" fill="#000"/>
<rect x="1108" y="599" width="3" height="1" fill="#000"/>
<rect x="672" y="593" width="2" height="1" fill="#000"/>
<rect x="1108" y="593" width="3" height="1" fill="#000"/>
<rect x="672" y="588" width="2" height="1" fill="#000"/>
<rect x="1108" y="588" width="3" height="1" fill="#000"/>
<rect x="672" y="583" width="2" height="1" fill="#000"/>
<rect x="1108" y="583" width="3" height="1" fill="#000"/>
<rect x="672" y="553" width="2" height="1" fill="#000"/>
<rect x="1108" y="553" width="3" height="1" fill="#000"/>
<rect x="672" y="537" width="2" height="1" fill="#000"/>
<rect x="1108" y="537" width="3" height="1" fill="#000"/>
<rect x="672" y="526" width="2" height="1" fill="#000"/>
<rect x="1108" y="526" width="3" height="1" fill="#000"/>
<rect x="672" y="518" width="2" height="1" fill="#000"/>
<rect x="1108" y="518" width="3" height="1" fill="#000"/>
<rect x="672" y="511" width="2" height="1" fill="#000"/>
<rect x="1108" y="511" width="3" height="1" fill="#000"/>
<rect x="672" y="505" width="2" height="1" fill="#000"/>
<rect x="1108" y="505" width="3" height="1" fill="#000"/>
<rect x="672" y="500" width="2" height="1" fill="#000"/>
<rect x="1108" y="500" width="3" height="1" fill="#000"/>
<rect x="672" y="495" width="2" height="1" fill="#000"/>
<rect x="1108" y="495" width="3" height="1" fill="#000"/>
<text x="674.0" y="866.8" font-size="14.6" text-anchor="middle" font-weight="normal" >0.1</text>
<text x="863.9" y="866.8" font-size="14.6" text-anchor="middle" font-weight="normal" >1</text>
<text x="1053.8" y="866.8" font-size="14.6" text-anchor="middle" font-weight="normal" >10</text>
<text x="662.5" y="848.6999999999999" font-size="14.6" text-anchor="end">1x10<tspan font-size="10.2" dy="-6.9">-14</tspan></text>
<text x="662.5" y="760.7499999999999" font-size="14.6" text-anchor="end">1x10<tspan font-size="10.2" dy="-6.9">-13</tspan></text>
<text x="662.5" y="672.8" font-size="14.6" text-anchor="end">1x10<tspan font-size="10.2" dy="-6.9">-12</tspan></text>
<text x="662.5" y="584.8499999999999" font-size="14.6" text-anchor="end">1x10<tspan font-size="10.2" dy="-6.9">-11</tspan></text>
<text x="662.5" y="496.9" font-size="14.6" text-anchor="end">1x10<tspan font-size="10.2" dy="-6.9">-10</tspan></text>
<text x="893.2" y="894.8" font-size="18.35" text-anchor="middle" font-weight="normal" >Power (nW)</text>
<text transform="translate(596.3,790.2) rotate(-90)" font-size="18.35">Noise Equivalent Power (W/Hz<tspan font-size="12.3" dy="-8.1">1/2</tspan><tspan dy="8.1">)</tspan></text>
<text transform="translate(625.4,472.1) scale(0.96,1)" font-size="35.6" font-weight="bold">d</text>
<text x="1009.0" y="746.8" font-size="14.3" text-anchor="start" font-weight="normal" >at B=0 T:</text>
<text x="1044.6" y="763.8" font-size="14.3" text-anchor="start" font-weight="normal" >T=0.02 K</text>
<path d="M1008.2,759.6999999999999H1041.6" stroke="#ff0000" stroke-width="3.2" stroke-dasharray="12.4 11.4" fill="none"/>
<text x="1009.0" y="780.9" font-size="14.3" text-anchor="start" font-weight="normal" >at B=0.1 T:</text>
<text x="1044.6" y="798.1" font-size="14.3" text-anchor="start" font-weight="normal" >T=0.02 K</text>
<path d="M1007.2,794.0H1043" stroke="#ff0000" stroke-width="4.3" fill="none"/>
<text x="1044.6" y="815.2" font-size="14.3" text-anchor="start" font-weight="normal" >T=1.4 K</text>
<path d="M1007.2,811.1H1043" stroke="#ff00ff" stroke-width="3.5" fill="none"/>
<text x="1044.6" y="832.4" font-size="14.3" text-anchor="start" font-weight="normal" >T=1.9 K</text>
<path d="M1007.2,828.3H1043" stroke="#00ffff" stroke-width="3.5" fill="none"/>
</g>
</svg>
</body></html>
